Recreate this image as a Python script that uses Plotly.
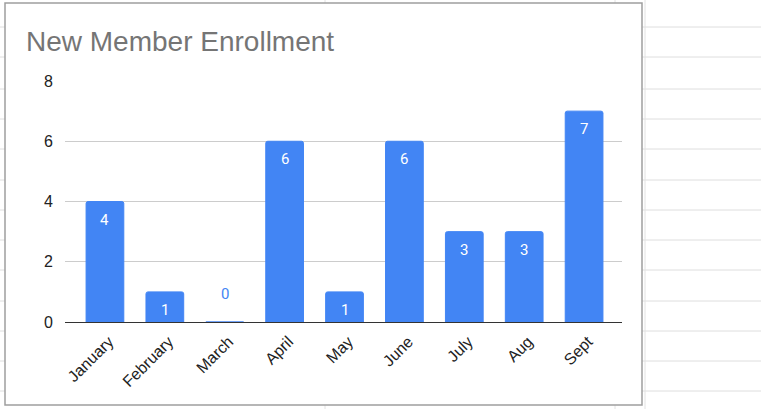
import plotly.graph_objects as go

months = ["January", "February", "March", "April", "May", "June", "July", "Aug", "Sept"]
enrollment = [4, 1, 0, 6, 1, 6, 3, 3, 7]
y_ticks = [0, 2, 4, 6, 8]

BLUE = "#4285F4"
W, H = 761, 409
PL, PR, PT, PB = 65, 622, 81, 322  # plot area in pixels


def px_x(px):
    return (px - PL) / (PR - PL)


def px_y(py):
    return (PB - py) / (PB - PT)


fig = go.Figure()
fig.add_trace(go.Bar(
    x=months, y=enrollment,
    marker=dict(color=BLUE, line=dict(color=BLUE, width=1), cornerradius=2),
    width=0.63,
    hoverinfo="x+y",
))

shapes = []
# spreadsheet grid behind the chart
for gy in [27, 57, 89, 119, 149, 180, 210, 240, 270, 301, 331, 361, 391]:
    shapes.append(dict(type="line", xref="paper", yref="paper",
                       x0=px_x(0), x1=px_x(W), y0=px_y(gy), y1=px_y(gy),
                       line=dict(color="#dedede", width=1), layer="below"))
for gx in [325, 615, 645]:
    shapes.append(dict(type="line", xref="paper", yref="paper",
                       x0=px_x(gx), x1=px_x(gx), y0=px_y(0), y1=px_y(H),
                       line=dict(color="#e2e2e2", width=1), layer="below"))
# chart card
shapes.append(dict(type="rect", xref="paper", yref="paper",
                   x0=px_x(5), x1=px_x(642), y0=px_y(3), y1=px_y(405),
                   fillcolor="white", line=dict(color="#9e9e9e", width=1.5),
                   layer="below"))

annotations = []
for m, v in zip(months, enrollment):
    if v > 0:
        annotations.append(dict(x=m, y=v, xref="x", yref="y", text=str(v),
                                showarrow=False, yanchor="top", yshift=-7,
                                font=dict(family="Roboto", size=15, color="white")))
    else:
        annotations.append(dict(x=m, y=v, xref="x", yref="y", text=str(v),
                                showarrow=False, yanchor="bottom", yshift=17,
                                font=dict(family="Roboto", size=15, color=BLUE)))

fig.update_layout(
    width=W, height=H,
    margin=dict(l=PL, r=W - PR, t=PT, b=H - PB, pad=0),
    paper_bgcolor="white", plot_bgcolor="white",
    showlegend=False,
    title=dict(text="New Member Enrollment", xref="container", yref="container",
               x=26 / W, xanchor="left", y=1 - 41 / H, yanchor="middle",
               font=dict(family="Arial", size=28, color="#757575")),
    xaxis=dict(range=[-0.667, 8.633], tickangle=-45, showgrid=False,
               showline=True, linecolor="#333333", linewidth=1,
               tickfont=dict(family="Arial", size=16, color="#222222"),
               ticks="outside", ticklen=3, tickcolor="rgba(0,0,0,0)",
               ticklabelshift=4),
    yaxis=dict(range=[0, 8], tickvals=y_ticks, showgrid=True, gridcolor="#cccccc",
               gridwidth=1, zeroline=False, showline=False,
               tickfont=dict(family="Arial", size=16, color="#222222"),
               ticks="outside", ticklen=8, tickcolor="rgba(0,0,0,0)"),
    shapes=shapes,
    annotations=annotations,
    bargap=0.37,
)

fig.write_html("out.html", config={"displayModeBar": False},
               post_script="document.body.style.margin='0';")
